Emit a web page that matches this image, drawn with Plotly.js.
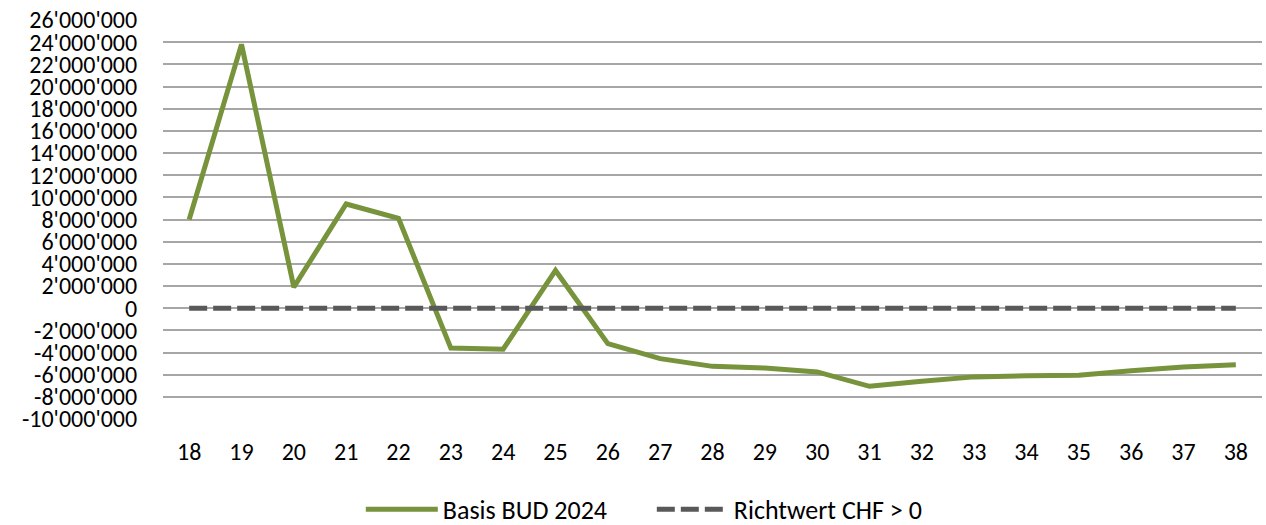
<!DOCTYPE html>
<html>
<head>
<meta charset="utf-8">
<script src="https://cdn.plot.ly/plotly-3.0.1.min.js"></script>
<style>html,body{margin:0;padding:0;background:#fff}#chart{width:1266px;height:525px}</style>
</head>
<body>
<div id="chart"></div>
<script>
const years = [18,19,20,21,22,23,24,25,26,27,28,29,30,31,32,33,34,35,36,37,38];
const basisBud2024 = [8000000,23800000,1900000,9400000,8100000,-3600000,-3700000,3400000,-3200000,-4550000,-5250000,-5400000,-5750000,-7050000,-6600000,-6200000,-6100000,-6050000,-5650000,-5300000,-5100000];
const richtwert = [0,0,0,0,0,0,0,0,0,0,0,0,0,0,0,0,0,0,0,0,0];
const yTickVals = [];
for (let v = -10000000; v <= 26000000; v += 2000000) yTickVals.push(v);
const yTickText = yTickVals.map(v => (v < 0 ? '-' : '') + Math.abs(v).toString().replace(/\B(?=(\d{3})+(?!\d))/g, "'"));

const font = "Carlito, 'Liberation Sans Narrow', 'Open Sans', sans-serif";
const traces = [
  {x: years, y: basisBud2024, type: 'scatter', mode: 'lines', name: 'Basis BUD 2024',
   line: {color: '#77933C', width: 5}},
  {x: years, y: richtwert, type: 'scatter', mode: 'lines', name: 'Richtwert CHF > 0',
   line: {color: '#595959', width: 5, dash: '18px,6px'}}
];
const layout = {
  width: 1266, height: 525,
  margin: {l: 163, r: 4, t: 20, b: 106, autoexpand: false},
  paper_bgcolor: '#fff', plot_bgcolor: '#fff',
  font: {family: font, size: 24, color: '#000'},
  showlegend: true,
  legend: {orientation: 'h', xref: 'container', yref: 'container', x: 0.285, xanchor: 'left',
    y: 0.03, yanchor: 'middle', font: {size: 26}, itemwidth: 72, entrywidth: 204, tracegroupgap: 0},
  xaxis: {range: [17.5, 38.5], tickmode: 'array', tickvals: years, ticktext: years.map(String), automargin: false,
    showgrid: false, zeroline: false, showline: false, ticks: 'outside', ticklen: 11, tickcolor: 'rgba(0,0,0,0)', fixedrange: true},
  yaxis: {range: [-10000000, 26000000], tickmode: 'array', tickvals: yTickVals, ticktext: yTickText, automargin: false,
    showgrid: true, gridcolor: '#A6A6A6', gridwidth: 2, zeroline: false, showline: false,
    ticks: 'outside', ticklen: 20, tickcolor: 'rgba(0,0,0,0)'}
};
Plotly.newPlot('chart', traces, layout, {displayModeBar: false, staticPlot: true});
</script>
</body>
</html>
